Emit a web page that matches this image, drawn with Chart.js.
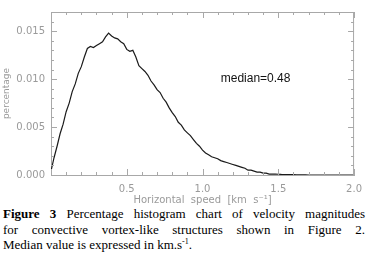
<!DOCTYPE html>
<html>
<head>
<meta charset="utf-8">
<script src="https://cdn.jsdelivr.net/npm/chart.js@4"></script>
<style>
    html, body { margin: 0; padding: 0; background: #fff; }
    #wrap { position: relative; width: 370px; height: 206px; }
    #caption { font-family: "Liberation Serif", "Times New Roman", serif; font-size: 13px; line-height: 15.5px; color: #000; padding: 0 5px 0 3px; }
    #caption .j { text-align: justify; text-align-last: justify; }
    sup { font-size: 8px; line-height: 0; }
</style>
</head>
<body>
<div id="wrap"><canvas id="chart" width="370" height="206"></canvas></div>
<div id="caption">
    <div class="j"><b>Figure 3</b> Percentage histogram chart of velocity magnitudes</div>
    <div class="j">for convective vortex-like structures shown in Figure 2.</div>
    <div>Median value is expressed in km.s<sup>-1</sup>.</div>
</div>
<script>
// histogram bin positions (km/s) and percentage per bin
const speeds = [
    0.00, 0.02, 0.04, 0.06, 0.08, 0.10, 0.12, 0.14, 0.16, 0.18,
    0.20, 0.22, 0.24, 0.26, 0.28, 0.30, 0.32, 0.34, 0.36, 0.38,
    0.40, 0.42, 0.44, 0.46, 0.48, 0.50, 0.52, 0.54, 0.56, 0.58,
    0.60, 0.62, 0.64, 0.66, 0.68, 0.70, 0.72, 0.74, 0.76, 0.78,
    0.80, 0.82, 0.84, 0.86, 0.88, 0.90, 0.92, 0.94, 0.96, 0.98,
    1.00, 1.02, 1.04, 1.06, 1.08, 1.10, 1.12, 1.14, 1.16, 1.18,
    1.20, 1.22, 1.24, 1.26, 1.28, 1.30, 1.32, 1.34, 1.36, 1.38,
    1.40, 1.42, 1.44, 1.46, 1.48, 1.50, 1.52, 1.54, 1.56, 1.58,
    1.60, 1.62, 1.64, 1.66, 1.68, 1.70, 1.80, 1.90, 2.00
];
const percentage = [
    0.0004, 0.0018, 0.0030, 0.0043, 0.0053, 0.0066, 0.0075, 0.0087, 0.0095, 0.0106,
    0.0113, 0.0123, 0.0132, 0.0134, 0.0133, 0.0135, 0.0137, 0.0139, 0.0144, 0.0148,
    0.0145, 0.0143, 0.0142, 0.0139, 0.0137, 0.0131, 0.0129, 0.0130, 0.0123, 0.0114,
    0.0111, 0.0108, 0.0104, 0.0098, 0.0094, 0.0089, 0.0086, 0.0080, 0.0076, 0.0070,
    0.0065, 0.0061, 0.0055, 0.0052, 0.0047, 0.0044, 0.0041, 0.0037, 0.0033, 0.0030,
    0.0026, 0.0023, 0.0021, 0.0019, 0.0018, 0.0017, 0.0015, 0.0014, 0.0013, 0.0012,
    0.0011, 0.0010, 0.0009, 0.0008, 0.0007, 0.0005, 0.0005, 0.0004, 0.0003, 0.0003,
    0.0002, 0.0002, 0.0001, 0.0001, 0.0001, 0.00008, 0.00006, 0.00005, 0.00004, 0.00003,
    0.00003, 0.00002, 0.00002, 0.00001, 0.00001, 0, 0, 0, 0
];
const xTicks = [0.5, 1.0, 1.5, 2.0];
const yTicks = [0.000, 0.005, 0.010, 0.015];
const medianText = "median=0.48";

const axisGrey = "#a8a8a8";
const labelGrey = "#9a9a9a";

// IDL style inward ticks on all four sides + median label
const boxTicks = {
    id: "boxTicks",
    afterDraw(chart) {
        const ctx = chart.ctx;
        const a = chart.chartArea;
        const xs = chart.scales.x, ys = chart.scales.y;
        ctx.save();
        ctx.strokeStyle = axisGrey;
        ctx.lineWidth = 1;
        ctx.beginPath();
        ctx.moveTo(a.left, a.top + 0.5); ctx.lineTo(a.right, a.top + 0.5);
        ctx.moveTo(a.right - 0.5, a.top); ctx.lineTo(a.right - 0.5, a.bottom);
        for (let i = 0; i <= 20; i++) {
            const v = i / 10;
            const len = i % 5 === 0 ? 6 : 3;
            const px = Math.round(xs.getPixelForValue(v)) + 0.5;
            ctx.moveTo(px, a.bottom); ctx.lineTo(px, a.bottom - len);
            ctx.moveTo(px, a.top); ctx.lineTo(px, a.top + len);
        }
        for (let i = 0; i <= 17; i++) {
            const v = i / 1000;
            const len = i % 5 === 0 ? 6 : 3;
            const py = Math.round(ys.getPixelForValue(v)) + 0.5;
            ctx.moveTo(a.left, py); ctx.lineTo(a.left + len, py);
            ctx.moveTo(a.right, py); ctx.lineTo(a.right - len, py);
        }
        ctx.stroke();

        ctx.fillStyle = "#111";
        ctx.font = "12px 'Liberation Sans', Arial, sans-serif";
        ctx.textBaseline = "middle";
        ctx.textAlign = "left";
        ctx.fillText(medianText, xs.getPixelForValue(1.12), ys.getPixelForValue(0.0100));
        ctx.restore();
    }
};

new Chart(document.getElementById("chart"), {
    type: "line",
    data: {
        datasets: [{
            data: speeds.map(function (s, i) { return { x: s, y: percentage[i] }; }),
            borderColor: "#1a1a1a",
            borderWidth: 1.2,
            pointRadius: 0,
            tension: 0,
            fill: false
        }]
    },
    options: {
        responsive: false,
        animation: false,
        layout: { padding: { left: 0, right: 13, top: 7, bottom: 0 } },
        plugins: { legend: { display: false }, tooltip: { enabled: false } },
        scales: {
            x: {
                type: "linear",
                min: 0,
                max: 2,
                afterBuildTicks: function (s) { s.ticks = xTicks.map(function (v) { return { value: v }; }); },
                afterFit: function (s) { s.height = 31; },
                grid: { display: false, drawTicks: false },
                border: { color: axisGrey },
                ticks: {
                    color: labelGrey,
                    font: { family: "DejaVu Sans", size: 10 },
                    padding: 8,
                    callback: function (v) { return v.toFixed(1); }
                },
                title: {
                    display: true,
                    text: "Horizontal  speed  [km  s\u207B\u00B9]",
                    color: labelGrey,
                    font: { family: "DejaVu Sans", size: 10 },
                    padding: { top: 0, bottom: 0 }
                }
            },
            y: {
                min: 0,
                max: 0.017,
                afterBuildTicks: function (s) { s.ticks = yTicks.map(function (v) { return { value: v }; }); },
                afterFit: function (s) { s.width = 51; },
                grid: { display: false, drawTicks: false },
                border: { color: axisGrey },
                ticks: {
                    color: labelGrey,
                    font: { family: "DejaVu Sans", size: 10 },
                    padding: 6,
                    callback: function (v) { return v.toFixed(3); }
                },
                title: {
                    display: true,
                    text: "percentage",
                    color: labelGrey,
                    font: { family: "DejaVu Sans", size: 9 },
                    padding: { top: 1, bottom: 0 }
                }
            }
        }
    },
    plugins: [boxTicks]
});
</script>
</body>
</html>
